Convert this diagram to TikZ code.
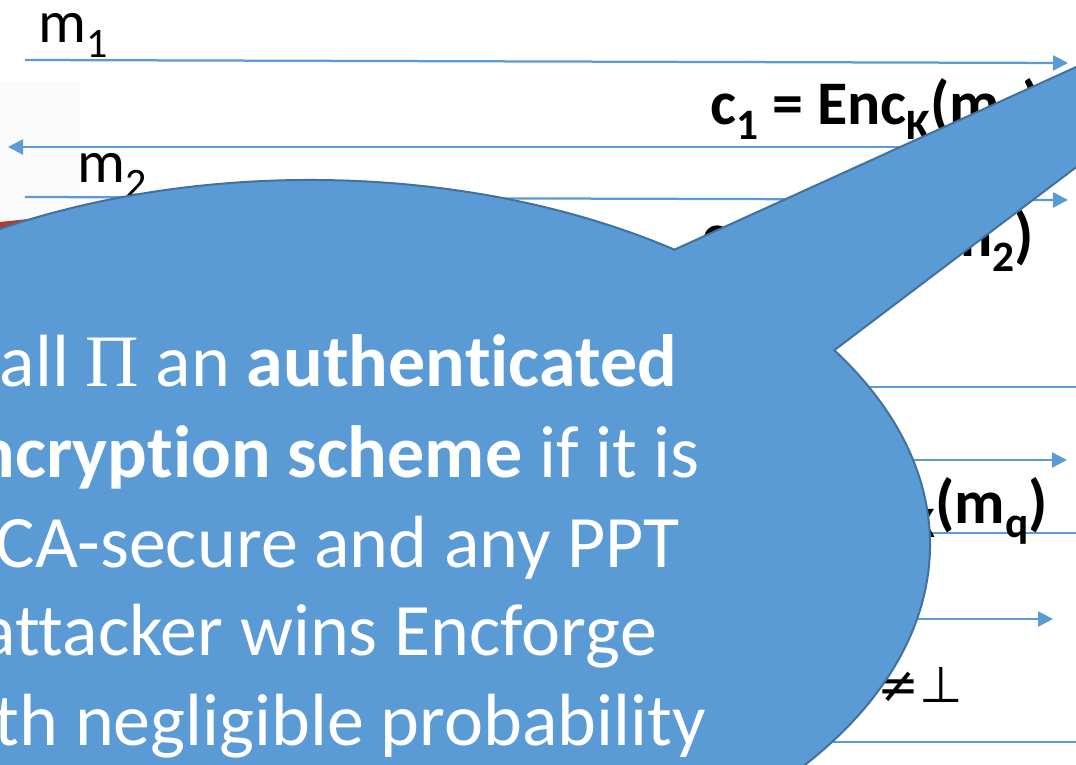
\documentclass[tikz,border=0pt]{standalone}
\usepackage{fontspec}
\usepackage{graphicx}
\setmainfont{Carlito}[Ligatures={NoCommon}]
\newfontfamily\grkfont{Liberation Serif}
\newfontfamily\symfont{DejaVu Sans}
\usetikzlibrary{arrows.meta}
\definecolor{bfill}{HTML}{5B9BD5}
\definecolor{bdraw}{HTML}{41719C}
\definecolor{arr}{HTML}{5B9BD5}
\definecolor{redbit}{HTML}{B03A2E}
\newcommand\mysub[1]{\raisebox{-0.24em}{\scalebox{0.7}{#1}}}
\begin{document}
\begin{tikzpicture}[x=1pt,y=1pt,
  conn/.style={draw=arr, line width=2.25pt, -{Triangle[length=15pt,width=15pt]}},
  lbl/.style={inner sep=0pt, font=\fontsize{60}{70}\selectfont},
  blbl/.style={inner sep=0pt, font=\fontsize{62}{72}\selectfont\bfseries},
  btext/.style={inner sep=0pt, text=white, font=\fontsize{74}{89}\selectfont, anchor=base east},
  bubble/.style={fill=bfill, draw=bdraw, line width=2pt, line join=miter}]
\useasboundingbox (0,0) rectangle (1076,764);
\clip (0,0) rectangle (1076,764);
\fill[white] (0,0) rectangle (1076,764);
% remnant of a picture at the left edge
\fill[gray!3] (0,500) rectangle (80,682);
\fill[redbit] (0,542) -- (28,545) -- (28,500) -- (0,500) -- cycle;
% connectors
\coordinate (a1s) at (25,704);  \coordinate (a1e) at (1068,701);
\coordinate (a2s) at (1090,617); \coordinate (a2e) at (8,617);
\coordinate (a3s) at (25,567);  \coordinate (a3e) at (1068,564);
\coordinate (a4s) at (1090,377); \coordinate (a4e) at (8,377);
\coordinate (a5s) at (25,304);  \coordinate (a5e) at (1067,304);
\coordinate (a6s) at (1090,231); \coordinate (a6e) at (8,231);
\coordinate (a7s) at (25,145);  \coordinate (a7e) at (1053,145);
\coordinate (a8s) at (1090,22);  \coordinate (a8e) at (8,22);
\foreach \i in {1,...,8} {\draw[conn] (a\i s) -- (a\i e);}
% labels
\node[lbl, anchor=base west] (m1) at (38,721) {m\mysub{1}};
\node[lbl, anchor=base west] (m2) at (77,581) {m\mysub{2}};
\node[blbl, anchor=base west] (c1) at (710,639) {c\mysub{1} = Enc\mysub{K}(m\mysub{1})};
\node[blbl, anchor=base east] (c2) at (1034,507) {c\mysub{2} = Enc\mysub{K}(m\mysub{2})};
\node[blbl, anchor=base east] (cq) at (1048,241) {c\mysub{q} = Enc\mysub{K}(m\mysub{q})};
\node[inner sep=0pt, anchor=base west, font=\fontsize{50}{60}\selectfont\symfont] (ne) at (877,62) {≠⊥};
% speech bubble
\path[bubble] (674.4,514.3) -- (1408,847.9) -- (834.3,413.8)
  arc[start angle=32.25, end angle=-306, x radius=620, y radius=365] -- cycle;
\node[btext] (t1) at (677,377) {call {\grkfont Π} an \textbf{authenticated}};
\node[btext] (t2) at (700,287) {\textbf{encryption scheme} if it is};
\node[btext] (t3) at (680,197) {CCA-secure and any PPT};
\node[btext] (t4) at (657,109) {attacker wins Encforge};
\node[btext] (t5) at (706,19) {with negligible probability};
\end{tikzpicture}
\end{document}
